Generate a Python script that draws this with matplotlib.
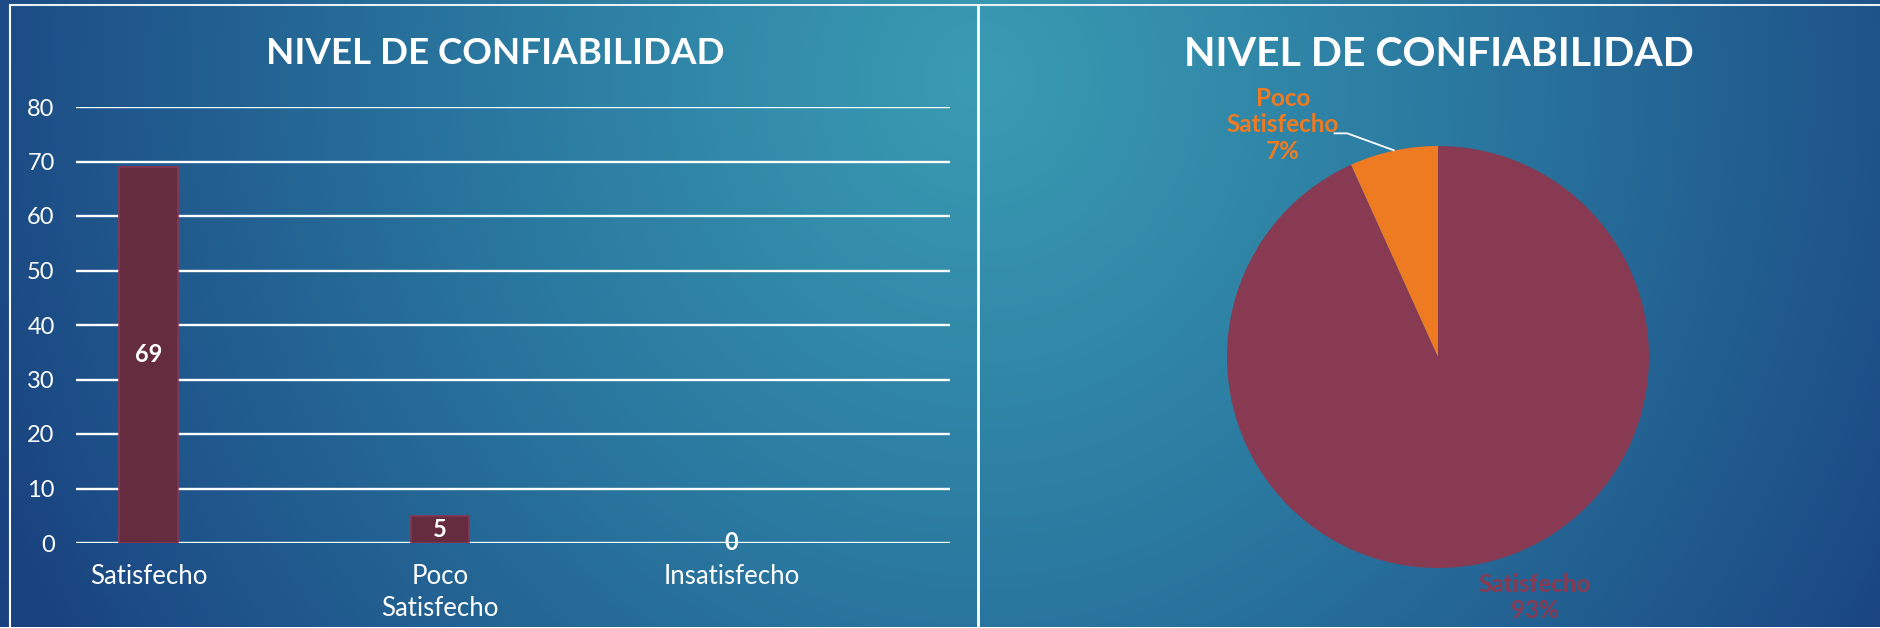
import matplotlib.pyplot as plt
import numpy as np
from matplotlib.colors import LinearSegmentedColormap

# data
categorias = ["Satisfecho", "Poco\nSatisfecho", "Insatisfecho"]
valores = [69, 5, 0]
pie_labels = ["Satisfecho", "Poco\nSatisfecho"]
pie_values = [69, 5]
titulo = "NIVEL DE CONFIABILIDAD"
yticks = [0, 10, 20, 30, 40, 50, 60, 70, 80]

plt.rcParams['font.family'] = ['Lato', 'DejaVu Sans']

W, H = 1880, 628
fig = plt.figure(figsize=(W/100, H/100), dpi=100)

# background radial gradient
bg = fig.add_axes([0, 0, 1, 1], zorder=-10)
yy, xx = np.mgrid[0:H, 0:W]
d = np.sqrt(((xx-980)/1.0)**2 + ((yy-80)/1.05)**2)
t = np.clip(d/1080, 0, 1)
cmap = LinearSegmentedColormap.from_list('bg', [(0.0, '#3a9cb3'), (0.45, '#2a78a0'), (0.85, '#1e5289'), (1.0, '#19417f')])
bg.imshow(t, cmap=cmap, vmin=0, vmax=1, aspect='auto', interpolation='bilinear')
bg.set_axis_off()

# panel borders
bg.plot([10, 10], [6, H], color='white', lw=1.5)
bg.plot([10, W], [5, 5], color='#e8f0f5', lw=1.5)
bg.plot([978, 978], [5, H], color='white', lw=2)
bg.set_xlim(0, W)
bg.set_ylim(H, 0)

# bar chart
ax = fig.add_axes([75.5/W, 1-543/H, (950-75.5)/W, (543-107)/H])
ax.set_facecolor('none')
x = np.arange(len(categorias))
for v in yticks:
    ax.axhline(v, color='white', lw=1.7, zorder=1)
edges = ['#8a3550' if v > 0 else 'none' for v in valores]
bars = ax.bar(x, valores, width=0.2, color='#652b3e', edgecolor=edges, lw=1.2, zorder=2)
ax.bar_label(bars, label_type='center', color='white', fontsize=17, fontweight='bold')
ax.set_xlim(-0.25, 2.75)
ax.set_ylim(0, 80)
ax.set_yticks(yticks)
ax.set_xticks(x)
ax.set_xticklabels(categorias, linespacing=1.35)
ax.tick_params(colors='white', labelsize=17, length=0)
ax.tick_params(axis='y', pad=15)
ax.tick_params(axis='x', pad=15, labelsize=18.5)
for s in ax.spines.values():
    s.set_visible(False)
fig.text(495/W, 1-54/H, titulo, color='white', fontsize=26.5, fontweight='bold', ha='center', va='center')

# pie chart
ax2 = fig.add_axes([(1438-211)/W, 1-(357+211)/H, 422/W, 422/H])
ax2.set_facecolor('none')
ax2.pie(pie_values, colors=['#873a52', '#ee7b22'], startangle=90, counterclock=False, radius=1)
ax2.set_xlim(-1, 1)
ax2.set_ylim(-1, 1)
ax2.set_aspect('equal')
total = sum(pie_values)
pct = [f"{round(v/total*100)}%" for v in pie_values]
ax2.text(0.46, -1.14, pie_labels[0]+"\n"+pct[0], color='#873a52', fontsize=17.5, fontweight='bold',
         ha='center', va='center', linespacing=1.2, clip_on=False)
ax2.text(-0.735, 1.10, pie_labels[1]+"\n"+pct[1], color='#ee7b22', fontsize=17.5, fontweight='bold',
         ha='center', va='center', linespacing=1.2, clip_on=False)
ax2.plot([-0.49, -0.43, -0.21], [1.06, 1.06, 0.98], color='white', lw=1.3, clip_on=False)
fig.text(1439/W, 1-54/H, titulo, color='white', fontsize=29.5, fontweight='bold', ha='center', va='center')

fig.savefig('out.png', dpi=100)
